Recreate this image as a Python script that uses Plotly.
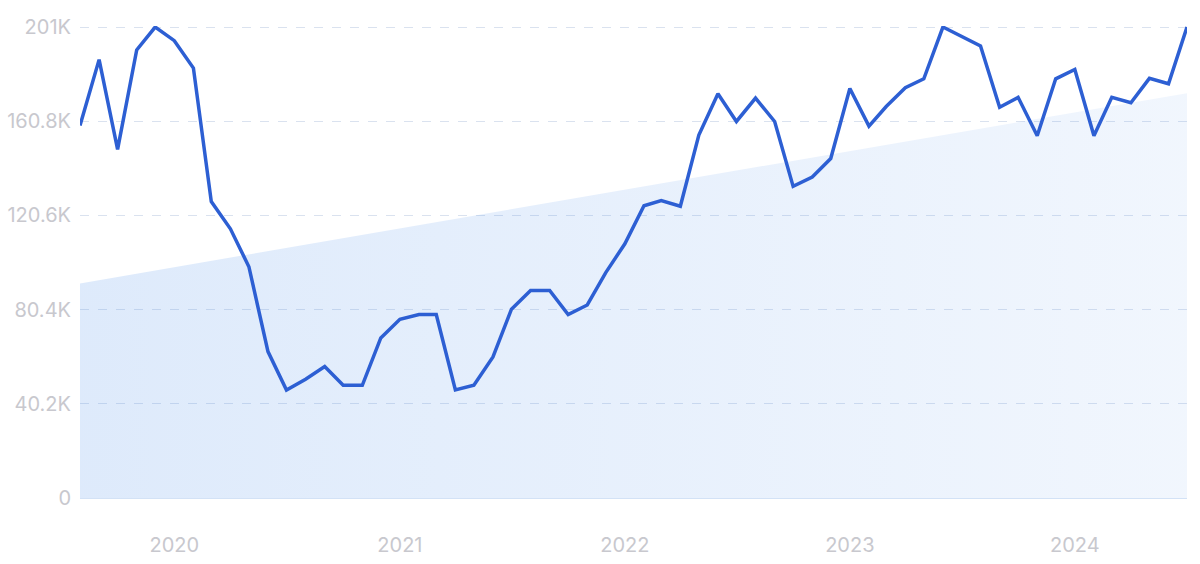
import plotly.graph_objects as go
import pandas as pd

# Monthly values (thousands), Aug 2019 - Jul 2024
months = pd.date_range("2019-08-01", periods=60, freq="MS")
values_k = [
    159.0, 187.1, 148.8, 191.2, 201.0, 195.2, 183.5, 126.5, 114.9, 98.7,
    62.5, 46.1, 50.7, 56.1, 48.1, 48.1, 68.3, 76.3, 78.3, 78.3,
    46.1, 48.1, 60.2, 80.6, 88.6, 88.6, 78.3, 82.4, 96.2, 108.5,
    124.7, 126.9, 124.5, 154.9, 172.5, 160.7, 170.7, 160.7, 133.0, 137.0,
    144.9, 174.8, 158.7, 167.1, 175.1, 178.9, 201.0, 197.0, 192.9, 166.8,
    171.0, 154.6, 178.9, 182.9, 154.6, 171.0, 168.7, 179.1, 176.8, 201.0,
]
values = [v * 1000 for v in values_k]

# Trend band endpoints (thousands)
trend_dates = [months[0], months[-1]]
trend_k = [91.6, 172.8]
trend = [v * 1000 for v in trend_k]

y_tickvals = [0, 40200, 80400, 120600, 160800, 201000]
y_ticktext = ["0", "40.2K", "80.4K", "120.6K", "160.8K", "201K"]
x_tickvals = ["2020-01-01", "2021-01-01", "2022-01-01", "2023-01-01", "2024-01-01"]
x_ticktext = ["2020", "2021", "2022", "2023", "2024"]

fig = go.Figure()
fig.add_trace(go.Scatter(
    x=trend_dates, y=trend, mode="lines", line=dict(width=0),
    fill="tozeroy",
    fillgradient=dict(type="horizontal",
                      colorscale=[[0, "rgba(80,145,235,0.19)"],
                                  [1, "rgba(80,145,235,0.08)"]]),
    hoverinfo="skip", showlegend=False,
))
fig.add_trace(go.Scatter(
    x=months, y=values, mode="lines",
    line=dict(color="#2d5fd3", width=3.5),
    showlegend=False,
))

fig.update_layout(
    width=1200, height=564,
    margin=dict(l=80, r=13, t=26, b=66),
    paper_bgcolor="white", plot_bgcolor="white",
    font=dict(family="Inter, Open Sans, sans-serif", color="#c8c8ce", size=20),
)
fig.update_xaxes(
    range=[months[0], months[-1]], automargin=False,
    tickvals=x_tickvals, ticktext=x_ticktext,
    showgrid=False, zeroline=False,
    showline=True, linecolor="#d3e2f6", linewidth=1,
    ticks="", ticklabelstandoff=29,
)
fig.update_yaxes(
    range=[0, 201450], automargin=False,
    tickvals=y_tickvals, ticktext=y_ticktext,
    showgrid=True, gridcolor="#dae2ef", griddash="dash", gridwidth=1,
    zeroline=False, ticks="", ticklabelstandoff=8,
)
fig.write_html(
    "out.html",
    config={"displayModeBar": False},
    post_script="document.body.style.margin='0';document.body.style.overflow='hidden';",
)
